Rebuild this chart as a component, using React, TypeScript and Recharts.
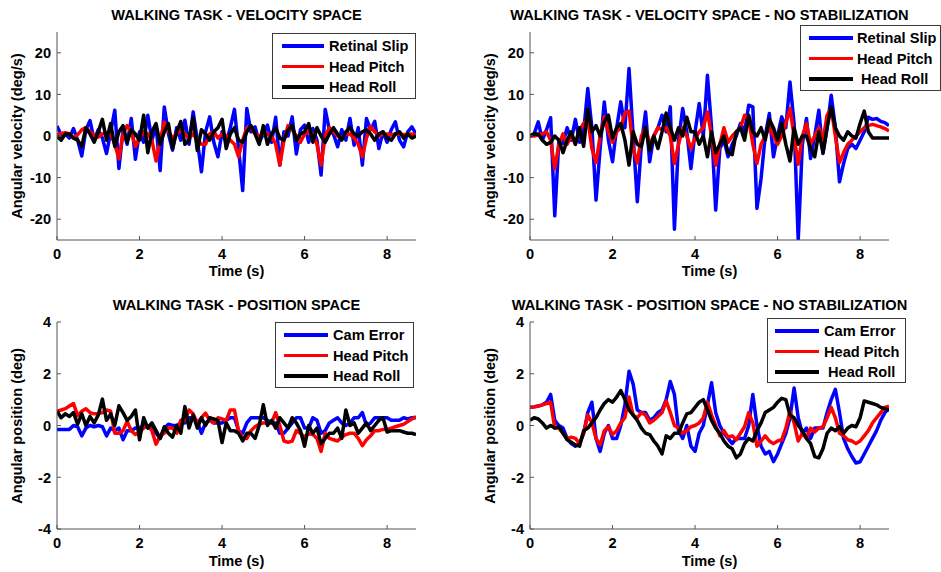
import React from 'react';
import { LineChart, Line, XAxis, YAxis, Legend } from 'recharts';

// sample times (s), 10 Hz
const TIME = [
  0, 0.1, 0.2, 0.3, 0.4, 0.5, 0.6, 0.7, 0.8, 0.9,
  1, 1.1, 1.2, 1.3, 1.4, 1.5, 1.6, 1.7, 1.8, 1.9,
  2, 2.1, 2.2, 2.3, 2.4, 2.5, 2.6, 2.7, 2.8, 2.9,
  3, 3.1, 3.2, 3.3, 3.4, 3.5, 3.6, 3.7, 3.8, 3.9,
  4, 4.1, 4.2, 4.3, 4.4, 4.5, 4.6, 4.7, 4.8, 4.9,
  5, 5.1, 5.2, 5.3, 5.4, 5.5, 5.6, 5.7, 5.8, 5.9,
  6, 6.1, 6.2, 6.3, 6.4, 6.5, 6.6, 6.7, 6.8, 6.9,
  7, 7.1, 7.2, 7.3, 7.4, 7.5, 7.6, 7.7, 7.8, 7.9,
  8, 8.1, 8.2, 8.3, 8.4, 8.5, 8.6, 8.7,
];

const X_TICKS = [0, 2, 4, 6, 8];
const VEL_TICKS = [-20, -10, 0, 10, 20];
const POS_TICKS = [-4, -2, 0, 2, 4];

// velocity space, stabilized (deg/s)
const VEL_STAB_SLIP = [
  2.4, 0.2, 0.5, -0.5, 1.8, -1, -4.8, 1.5, 3.7, -1,
  1.5, -0.5, -4.2, 1, 6.2, -7.8, 1.5, -2, 4.2, -5.6,
  1, -1.5, 5, -1, 2.5, -8.3, 7, 0.5, -3.4, 2,
  -1, 3.8, -2, 5.8, -1, -8.6, 1, 4.6, -1.5, -5,
  1, -1.5, 2, 6.4, -3, -13.1, 6.6, 1, 2.2, -1.5,
  0.5, 2.6, -1.5, 4.5, -7, 1, 0, 4.6, -4.3, 1.5,
  2.6, -1.5, 1.8, -1, -9.4, 6.4, 1.5, 0.5, -2.6, 1.5,
  -1, 4.2, -2.2, 2, -7, 4.2, 1.5, 3.5, -3, 1,
  -1.5, 1.5, 3.4, -1, -2.6, 1, 2.2, 0.5,
];
const VEL_STAB_PITCH = [
  0.3, 0.6, 0.8, 0.5, -0.5, 0.3, 1.5, 2, 1, 0.2,
  -0.3, 0.5, 0.8, 0.5, -2, -5.5, 0.5, 2.5, 1, -2.5,
  -0.5, 1, 0.5, -1, -6, -1, 3.3, 1, -0.5, 0.5,
  1.5, 0.5, -0.5, 0.5, -1, -2, -2, 0.5, 1, -0.5,
  0.5, 0, -1, -2, -5, -1, 2, 2, 0.5, 0,
  0.5, 0.5, 0, -2, -7, -1, 2.5, 1.5, 0, -1.5,
  0.5, 1, 0.5, -2, -7, 0, 2, 1, 0, -0.5,
  0.5, 0.5, -0.5, -2, -5, -0.5, 2.3, 1, 0, 0.5,
  0.5, 0.3, 0.5, 0.5, 0.3, 0.5, 0.5, 0.3,
];
const VEL_STAB_ROLL = [
  0, -1, 0.5, 0.5, -0.5, -1, -2.5, 2, 0.5, -1.5,
  1, 4, -1, 3, -2.5, 1, 2.5, -1.5, 1.5, 0.5,
  -1, 5, -4, 1, 3, -2, 1, 3, -3, 1,
  3.5, -2, -1, 4.5, -3.5, 1.5, 0.5, -1, 1, 2,
  4, -3, 0.5, 2, -1, -1.5, 1, 2.5, 0.5, -2,
  2.5, -2, 0.5, 2, -0.5, -1, 1.5, 2.5, -1, 0.5,
  1, 3, -1.5, 2, 0, -1.5, 0.5, 2, 0.5, -1,
  1, 2, 0.5, 0, 1, 1.5, 0.5, -1, 0.5, 1,
  -0.5, -1, 0.5, 1, -0.5, 0.5, -0.5, 0,
];

// velocity space, no stabilization (deg/s)
const VEL_NOSTAB_SLIP = [
  0, 0.5, 3.4, -1, 1.5, 4.4, -19.2, -1, -1.8, 2,
  -1, 4, -1.5, 1, 11.4, 2, -15.4, -3, 8.2, -1,
  -6.2, 2, 8.2, 2, 16.2, 0, -15.8, -2, 5.8, -6.2,
  0, 2, 5, 1, 7, -22.4, -1, 6.6, 1, -7.8,
  1, 7.8, 0, 14.6, 2, -17.8, -3, -1, -5, -2,
  0, 3, 1, 7.4, 7, -17.4, -10.2, 0, 5.4, -5,
  0, 4.6, 2, 13, 3, -25, -2, 4.2, -5.4, 0,
  6.2, -4.2, 2, 9.8, 2, -11, -6.6, -3, -2, -3,
  -1, 1, 4.5, 4, 4.2, 3.5, 3.2, 2.5,
];
const VEL_NOSTAB_PITCH = [
  0, 0, 0.3, 0.5, 1, -1, -7.8, -2, 0.5, -2,
  0, -2, 1.5, 3, 4, -3, -6.4, 0, 4.6, 1,
  -1.5, 1, 2, 5.5, 6, -3, -6.5, 0, 2, -2,
  0, 2, 1.5, 2, 0, -6.6, -2, 2, 0, -3,
  -0.5, 1, 2, 5.8, 0, -7, -2, 2, -1.5, 0,
  1, 2, 5, 4, -2, -6.6, -2, 0, 2, 0,
  -2, 0, 3, 6.6, 0, -6.8, 0, 3, -2, 0,
  2, -1, 5, 6.6, 0, -6.4, -4, -2, -1, 0,
  1, 2, 2.5, 2.8, 2.5, 2.2, 1.8, 1.2,
];
const VEL_NOSTAB_ROLL = [
  0, 0.5, 0.5, -1, -2, -1.5, 0, -1, -4, -1,
  1, -2, 2, -2.5, 6.5, 1, 2.5, 0, 3.5, 5,
  -0.5, 2, 3, -1, -7, 1, -2, -2.5, 2, -3.5,
  0, -3, 1, 5.5, 2, -1, 2, 0, 4.5, 1,
  1, -2, 0, -5, 1, -4, -2, 0, -4, -4.5,
  1, 2, -1, 5, 1, 0, 2, -1, 4, 2,
  -1, 3, -2, -6, 2, -2, 0, 0, -3, -5,
  1, -4, 2, 7, 2, 0, -1, 1, 0, -0.5,
  3, 6, 1, -0.5, -0.5, -0.5, -0.5, -0.5,
];

// position space, stabilized (deg)
const POS_STAB_CAM = [
  -0.15, -0.15, -0.15, -0.15, 0, -0.05, -0.4, -0.1, 0, -0.05,
  0, -0.05, -0.4, -0.1, -0.2, -0.1, -0.55, -0.2, -0.2, -0.1,
  -0.1, 0, -0.05, -0.1, -0.3, -0.5, -0.1, 0.05, 0, 0,
  0.1, 0.1, 0.3, 0.3, 0.15, -0.3, 0.1, 0.2, 0.1, 0.1,
  0.1, 0.2, 0.3, 0.3, -0.2, -0.3, 0.1, 0.3, 0.3, 0.3,
  0.3, 0.2, 0.1, 0.1, -0.3, -0.3, -0.1, 0.1, 0.3, 0.3,
  -0.1, -0.1, 0.3, 0.2, -0.3, -0.2, 0.1, 0.2, 0.3, 0.1,
  0, 0.1, 0.3, 0.3, 0.5, 0, 0.1, 0.3, 0.3, 0.3,
  0.3, 0.2, 0.2, 0.2, 0.3, 0.25, 0.3, 0.3,
];
const POS_STAB_PITCH = [
  0.55, 0.6, 0.65, 0.75, 0.85, 0.38, 0.55, 0.65, 0.5, 0.45,
  0.45, 0.5, 0.6, 0.55, -0.3, -0.3, -0.2, 0.16, -0.2, -0.35,
  -0.25, -0.1, 0, -0.2, -0.72, -0.4, -0.3, -0.1, -0.1, -0.3,
  0.2, 0.2, 0.6, 0.45, 0.1, 0.3, 0.48, 0.2, 0.1, 0.3,
  0.25, 0.2, 0.6, 0.6, -0.2, -0.5, -0.5, -0.2, -0.05, 0.05,
  0.1, 0.1, 0.1, 0.5, 0, -0.6, -0.65, -0.6, -0.2, -0.3,
  -0.45, -0.3, -0.35, -0.5, -1, -0.3, -0.5, -0.55, -0.6, -0.45,
  -0.35, -0.3, -0.3, -0.5, -0.78, -0.55, -0.4, -0.2, -0.2, -0.15,
  -0.15, -0.1, -0.05, 0, 0.05, 0.15, 0.25, 0.35,
];
const POS_STAB_ROLL = [
  0.55, 0.3, 0.45, 0.35, 0.5, 0.05, 0.45, 0, 0.35, 0.1,
  0.4, 1.02, 0.2, 0.45, 0, 0.76, 0.5, 0.2, 0.35, 0.6,
  -0.55, 0.3, -0.1, 0.1, -0.2, -0.5, -0.05, -0.3, -0.45, 0,
  -0.3, 0.73, -0.1, 0.4, -0.1, 0.3, 0, 0.3, 0.25, 0.2,
  -0.66, 0.1, -0.2, -0.2, -0.3, -0.6, -0.3, -0.3, -0.5, 0,
  0.8, 0, 0.2, -0.1, 0.3, 0.1, -0.1, 0.3, 0.1, -0.2,
  -0.8, 0, -0.3, -0.1, -0.7, -0.5, -0.3, -0.3, -0.1, -0.5,
  0.6, 0, 0.1, -0.3, -0.1, 0.1, -0.2, 0, 0.2, 0.3,
  -0.25, -0.2, -0.2, -0.2, -0.25, -0.3, -0.3, -0.35,
];

// position space, no stabilization (deg)
const POS_NOSTAB_CAM = [
  0.7, 0.72, 0.75, 0.8, 0.9, 1.2, 0.2, 0, -0.1, -0.5,
  -0.7, -0.8, -0.7, -0.3, 0.5, 0.9, -0.5, -1, -0.3, 0,
  -0.5, -0.5, 0, 0.8, 2.1, 1.6, 0.6, 0.5, 0.5, 0.2,
  0.3, 0.5, 0.6, 1, 1.7, 1.2, -0.2, -0.5, 0, -0.8,
  -1, -0.3, 0, 0.8, 1.65, 0.5, 0, -0.3, -0.5, -0.7,
  -0.5, -0.5, -0.5, 0, 1.2, 0, -0.8, -1.1, -1, -1.4,
  -1.1, -0.7, -0.3, 0.3, 1.45, 0.3, -0.3, -0.1, -0.5, -0.1,
  -0.1, -0.1, 0.5, 1, 1.4, 0.5, -0.5, -0.9, -1.2, -1.45,
  -1.4, -1.1, -0.8, -0.5, -0.2, 0.2, 0.5, 0.65,
];
const POS_NOSTAB_PITCH = [
  0.7, 0.72, 0.75, 0.8, 0.85, 0.9, -0.1, -0.1, -0.3, -0.5,
  -0.45, -0.5, -0.7, -0.3, 0.4, 0.1, -0.5, -0.75, -0.2, -0.05,
  -0.35, -0.2, 0.1, 0.3, 1.1, 0.4, 0.3, 0.5, 0.4, 0.1,
  0.2, 0.35, 0.5, 0.95, 0.5, 0, -0.1, -0.3, -0.2, -0.05,
  0, 0.1, 0.3, 0.9, 0.4, 0, -0.4, -0.2, -0.45, -0.4,
  -0.55, -0.3, -0.05, 0.5, 0.1, -0.8, -0.6, -0.4, -0.6, -0.7,
  -0.6, -0.55, -0.1, 0.55, 0.1, -0.6, -0.3, -0.5, -0.1, -0.25,
  -0.1, -0.05, 0.3, 0.7, 0.3, -0.3, -0.4, -0.55, -0.6, -0.7,
  -0.6, -0.4, -0.2, 0.1, 0.3, 0.5, 0.7, 0.75,
];
const POS_NOSTAB_ROLL = [
  0.2, 0.3, 0.25, 0.1, -0.1, 0, -0.1, -0.05, -0.3, -0.55,
  -0.65, -0.75, -0.8, -0.2, -0.1, 0.1, 0.3, 0.6, 0.85, 1,
  0.9, 1.1, 1.35, 1, 0.6, 0.4, 0.2, -0.1, -0.3, -0.35,
  -0.6, -0.8, -1.1, -0.4, -0.5, -0.3, -0.3, 0.1, 0.45, 0.5,
  0.7, 0.9, 1, 0.6, 0.2, -0.1, -0.3, -0.6, -0.8, -0.9,
  -1.25, -1.1, -0.7, -0.5, -0.6, -0.2, 0.1, 0.5, 0.6, 0.7,
  0.9, 1.05, 1, 0.4, 0.3, 0, -0.2, -0.5, -0.7, -1.2,
  -1.25, -0.9, -0.3, -0.1, -0.2, -0.05, -0.3, -0.1, 0, -0.05,
  0.3, 0.95, 0.9, 0.85, 0.8, 0.7, 0.65, 0.6,
];

const BLUE = '#0000ff';
const RED = '#ff0000';
const BLACK = '#000000';
const AXIS = '#555555';
const TICK_LEN = 4;
const LINE_W = 3.5;
const FONT_SIZE = 14.6;

const FONT: React.CSSProperties = {
  fontFamily: '"Liberation Sans", Arial, Helvetica, sans-serif',
  fontWeight: 700,
  fontSize: FONT_SIZE,
  color: '#000',
};
const SVG_FONT = {
  fontFamily: '"Liberation Sans", Arial, Helvetica, sans-serif',
  fontWeight: 700,
  fontSize: FONT_SIZE,
  fill: '#000',
};

// legend row centres inside the box
const LEGEND_ROWS = [13, 33.5, 54];

// bottom axis: label below, short tick pointing up into the plot
const BottomTick = (props: any) => {
  const { x, y, payload } = props;
  return (
    <g>
      <line x1={x} y1={y - 8} x2={x} y2={y - 8 - TICK_LEN} stroke={AXIS} />
      <text x={x} y={y} dy="0.72em" textAnchor="middle" style={SVG_FONT}>{payload.value}</text>
    </g>
  );
};
const LeftTick = (props: any) => {
  const { x, y, payload } = props;
  return (
    <g>
      <line x1={x + 6} y1={y} x2={x + 6 + TICK_LEN} y2={y} stroke={AXIS} />
      <text x={x} y={y} dy="0.36em" textAnchor="end" style={SVG_FONT}>{payload.value}</text>
    </g>
  );
};
// mirrored ticks on the top and right edges of the box
const TopTick = (props: any) => (
  <line x1={props.x} y1={props.y} x2={props.x} y2={props.y + TICK_LEN} stroke={AXIS} />
);
const RightTick = (props: any) => (
  <line x1={props.x} y1={props.y} x2={props.x - TICK_LEN} y2={props.y} stroke={AXIS} />
);

type Series = { key: string; name: string; color: string; values: number[] };
type LegendSpec = { x: number; y: number; w: number; h: number; lineX: number; lineW: number; textX: number };

interface PanelProps {
  left: number;
  top: number;
  width: number;
  height: number;
  plot: { x0: number; x1: number; y0: number; y1: number };
  title: string;
  yLabel: string;
  yDomain: [number, number];
  yTicks: number[];
  series: Series[];
  legend: LegendSpec;
}

const LegendBox = ({ series, spec }: { series: Series[]; spec: LegendSpec }) => (
  <div
    style={{
      position: 'relative',
      width: spec.w,
      height: spec.h,
      border: '1px solid #3a3a3a',
      background: '#fff',
      boxSizing: 'border-box',
    }}
  >
    {series.map((s, i) => (
      <React.Fragment key={s.key}>
        <div
          style={{
            position: 'absolute',
            left: spec.lineX,
            top: LEGEND_ROWS[i] - LINE_W / 2 - 1,
            width: spec.lineW,
            height: LINE_W,
            background: s.color,
          }}
        />
        <div
          style={{
            ...FONT,
            position: 'absolute',
            left: spec.textX,
            top: LEGEND_ROWS[i] - 1,
            transform: 'translateY(-50%)',
            whiteSpace: 'pre',
            lineHeight: 1,
          }}
        >
          {s.name}
        </div>
      </React.Fragment>
    ))}
  </div>
);

const Panel: React.FC<PanelProps> = ({ left, top, width, height, plot, title, yLabel, yDomain, yTicks, series, legend }) => {
  const xAxisHeight = 40;
  const rows = TIME.map((t, i) => {
    const row: Record<string, number> = { t };
    series.forEach(s => { row[s.key] = s.values[i]; });
    return row;
  });
  const cx = (plot.x0 + plot.x1) / 2;
  const cy = (plot.y0 + plot.y1) / 2;

  return (
    <div style={{ position: 'absolute', left, top, width, height }}>
      <LineChart
        width={width}
        height={height}
        data={rows}
        margin={{ top: plot.y0, left: 0, right: width - plot.x1, bottom: height - plot.y1 - xAxisHeight }}
      >
        <XAxis
          dataKey="t"
          type="number"
          domain={[0, 8.7]}
          ticks={X_TICKS}
          allowDataOverflow
          height={xAxisHeight}
          tickSize={0}
          tickMargin={8}
          tickLine={false}
          axisLine={{ stroke: AXIS }}
          tick={BottomTick}
        />
        <XAxis
          xAxisId="top"
          orientation="top"
          type="number"
          domain={[0, 8.7]}
          ticks={X_TICKS}
          allowDataOverflow
          height={0}
          tickSize={0}
          tickMargin={0}
          tickLine={false}
          axisLine={{ stroke: AXIS }}
          tick={TopTick}
        />
        <YAxis
          type="number"
          domain={yDomain}
          ticks={yTicks}
          allowDataOverflow
          width={plot.x0}
          tickSize={0}
          tickMargin={6}
          tickLine={false}
          axisLine={{ stroke: AXIS }}
          tick={LeftTick}
        />
        <YAxis
          yAxisId="right"
          orientation="right"
          type="number"
          domain={yDomain}
          ticks={yTicks}
          allowDataOverflow
          width={0}
          tickSize={0}
          tickMargin={0}
          tickLine={false}
          axisLine={{ stroke: AXIS }}
          tick={RightTick}
        />
        {series.map(s => (
          <Line
            key={s.key}
            type="linear"
            dataKey={s.key}
            name={s.name}
            stroke={s.color}
            strokeWidth={LINE_W}
            strokeLinejoin="round"
            dot={false}
            activeDot={false}
            isAnimationActive={false}
          />
        ))}
        <Legend
          layout="horizontal"
          verticalAlign="middle"
          align="center"
          wrapperStyle={{ left: legend.x, top: legend.y, width: legend.w, height: legend.h }}
          content={() => <LegendBox series={series} spec={legend} />}
        />
      </LineChart>

      <div style={{ ...FONT, position: 'absolute', left: cx - 250, top: 15, width: 500, textAlign: 'center', transform: 'translateY(-50%)', whiteSpace: 'nowrap', lineHeight: 1 }}>
        {title}
      </div>
      <div style={{ ...FONT, position: 'absolute', left: cx, top: 271, transform: 'translate(-50%, -50%)', whiteSpace: 'nowrap', lineHeight: 1 }}>
        Time (s)
      </div>
      <div
        style={{
          ...FONT,
          position: 'absolute',
          left: plot.x0 - 40,
          top: cy,
          transform: 'translate(-50%, -50%) rotate(-90deg)',
          whiteSpace: 'nowrap',
          lineHeight: 1,
        }}
      >
        {yLabel}
      </div>
    </div>
  );
};

const velStab: Series[] = [
  { key: 'slip', name: 'Retinal Slip', color: BLUE, values: VEL_STAB_SLIP },
  { key: 'pitch', name: 'Head Pitch', color: RED, values: VEL_STAB_PITCH },
  { key: 'roll', name: 'Head Roll', color: BLACK, values: VEL_STAB_ROLL },
];
const velNoStab: Series[] = [
  { key: 'slip', name: 'Retinal Slip', color: BLUE, values: VEL_NOSTAB_SLIP },
  { key: 'pitch', name: 'Head Pitch', color: RED, values: VEL_NOSTAB_PITCH },
  { key: 'roll', name: ' Head Roll', color: BLACK, values: VEL_NOSTAB_ROLL },
];
const posStab: Series[] = [
  { key: 'cam', name: 'Cam Error', color: BLUE, values: POS_STAB_CAM },
  { key: 'pitch', name: 'Head Pitch', color: RED, values: POS_STAB_PITCH },
  { key: 'roll', name: 'Head Roll', color: BLACK, values: POS_STAB_ROLL },
];
const posNoStab: Series[] = [
  { key: 'cam', name: 'Cam Error', color: BLUE, values: POS_NOSTAB_CAM },
  { key: 'pitch', name: 'Head Pitch', color: RED, values: POS_NOSTAB_PITCH },
  { key: 'roll', name: ' Head Roll', color: BLACK, values: POS_NOSTAB_ROLL },
];

export default function App() {
  return (
    <div style={{ position: 'absolute', left: 0, top: 0, width: 941, height: 572, background: '#fff', overflow: 'hidden' }}>
      <Panel
        left={0} top={0} width={470} height={290}
        plot={{ x0: 57, x1: 416, y0: 32, y1: 240 }}
        title="WALKING TASK - VELOCITY SPACE"
        yLabel="Angular velocity (deg/s)"
        yDomain={[-25, 25]} yTicks={VEL_TICKS}
        series={velStab}
        legend={{ x: 272, y: 33, w: 144, h: 66, lineX: 9, lineW: 42, textX: 56 }}
      />
      <Panel
        left={470} top={0} width={471} height={290}
        plot={{ x0: 60, x1: 419, y0: 32, y1: 240 }}
        title="WALKING TASK - VELOCITY SPACE - NO STABILIZATION"
        yLabel="Angular velocity (deg/s)"
        yDomain={[-25, 25]} yTicks={VEL_TICKS}
        series={velNoStab}
        legend={{ x: 330, y: 25, w: 141, h: 66, lineX: 8, lineW: 44, textX: 56 }}
      />
      <Panel
        left={0} top={290} width={470} height={282}
        plot={{ x0: 57, x1: 416, y0: 32, y1: 239 }}
        title="WALKING TASK - POSITION SPACE"
        yLabel="Angular position (deg)"
        yDomain={[-4, 4]} yTicks={POS_TICKS}
        series={posStab}
        legend={{ x: 275, y: 32, w: 139, h: 66, lineX: 8, lineW: 44, textX: 57 }}
      />
      <Panel
        left={470} top={290} width={471} height={282}
        plot={{ x0: 60, x1: 419, y0: 32, y1: 239 }}
        title="WALKING TASK - POSITION SPACE - NO STABILIZATION"
        yLabel="Angular position (deg)"
        yDomain={[-4, 4]} yTicks={POS_TICKS}
        series={posNoStab}
        legend={{ x: 297, y: 28, w: 139, h: 65, lineX: 7, lineW: 44, textX: 56 }}
      />
    </div>
  );
}
